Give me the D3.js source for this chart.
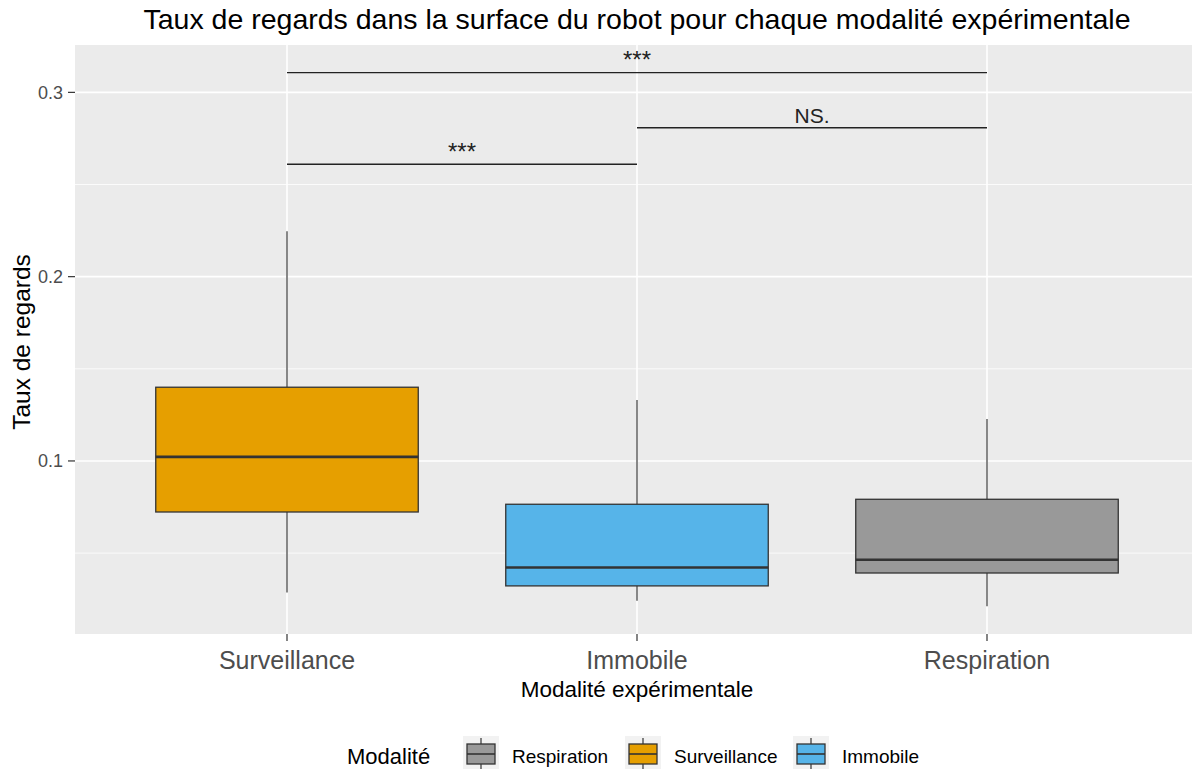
<!DOCTYPE html>
<html>
<head>
<meta charset="utf-8">
<script src="https://cdn.jsdelivr.net/npm/d3@7"></script>
<style>
  body { margin: 0; background: #fff; }
  svg { display: block; font-family: "Liberation Sans", Arial, sans-serif; }
</style>
</head>
<body>
<svg id="chart" width="1192" height="769"></svg>
<script>
// Box statistics per experimental condition
const categories = ["Surveillance", "Immobile", "Respiration"];
const lowerWhisker = [0.0286, 0.0242, 0.0211];
const q1 = [0.0723, 0.0322, 0.0392];
const median = [0.1022, 0.0422, 0.0464];
const q3 = [0.1400, 0.0765, 0.0792];
const upperWhisker = [0.2246, 0.1331, 0.1228];
const fills = {"Surveillance": "#E69F00", "Immobile": "#56B4E9", "Respiration": "#999999"};

const yTicks = [0.1, 0.2, 0.3];
const yMinor = [0.05, 0.15, 0.25];

// Pairwise comparisons (ggsignif-style brackets)
const comparisons = [
  {from: "Surveillance", to: "Immobile", y: 0.261, label: "***"},
  {from: "Immobile", to: "Respiration", y: 0.2808, label: "NS."},
  {from: "Surveillance", to: "Respiration", y: 0.3107, label: "***"}
];

const legendOrder = ["Respiration", "Surveillance", "Immobile"];

const svg = d3.select("#chart");
const panel = {left: 75, right: 1192, top: 45, bottom: 634};

const x = d3.scalePoint().domain(categories)
  .range([77, 1197]).padding(0.6);
const step = x.step();
const boxW = step * 0.75;

const y = d3.scaleLinear().domain([0.0061, 0.3257]).range([panel.bottom, panel.top]);

// Panel background
svg.append("rect")
  .attr("x", panel.left).attr("y", panel.top)
  .attr("width", panel.right - panel.left).attr("height", panel.bottom - panel.top)
  .attr("fill", "#EBEBEB");

// Grid lines
svg.append("g").selectAll("line").data(yMinor).join("line")
  .attr("x1", panel.left).attr("x2", panel.right)
  .attr("y1", d => y(d)).attr("y2", d => y(d))
  .attr("stroke", "#fff").attr("stroke-width", 0.8);
svg.append("g").selectAll("line").data(yTicks).join("line")
  .attr("x1", panel.left).attr("x2", panel.right)
  .attr("y1", d => y(d)).attr("y2", d => y(d))
  .attr("stroke", "#fff").attr("stroke-width", 1.6);
svg.append("g").selectAll("line").data(categories).join("line")
  .attr("x1", d => x(d)).attr("x2", d => x(d))
  .attr("y1", panel.top).attr("y2", panel.bottom)
  .attr("stroke", "#fff").attr("stroke-width", 1.6);

// Boxplots
const boxes = svg.append("g").selectAll("g").data(categories).join("g");
boxes.append("line")
  .attr("x1", d => x(d)).attr("x2", d => x(d))
  .attr("y1", (d, i) => y(upperWhisker[i])).attr("y2", (d, i) => y(q3[i]))
  .attr("stroke", "#555").attr("stroke-width", 1.4);
boxes.append("line")
  .attr("x1", d => x(d)).attr("x2", d => x(d))
  .attr("y1", (d, i) => y(q1[i])).attr("y2", (d, i) => y(lowerWhisker[i]))
  .attr("stroke", "#555").attr("stroke-width", 1.4);
boxes.append("rect")
  .attr("x", d => x(d) - boxW / 2).attr("width", boxW)
  .attr("y", (d, i) => y(q3[i]))
  .attr("height", (d, i) => y(q1[i]) - y(q3[i]))
  .attr("fill", d => fills[d]).attr("stroke", "#333").attr("stroke-width", 1.3);
boxes.append("line")
  .attr("x1", d => x(d) - boxW / 2).attr("x2", d => x(d) + boxW / 2)
  .attr("y1", (d, i) => y(median[i])).attr("y2", (d, i) => y(median[i]))
  .attr("stroke", "#333").attr("stroke-width", 2.6);

// Significance brackets
const sig = svg.append("g").selectAll("g").data(comparisons).join("g");
sig.append("line")
  .attr("x1", d => x(d.from)).attr("x2", d => x(d.to))
  .attr("y1", d => y(d.y)).attr("y2", d => y(d.y))
  .attr("stroke", "#222").attr("stroke-width", 1.4);
sig.append("text")
  .attr("x", d => (x(d.from) + x(d.to)) / 2)
  .attr("y", d => y(d.y) - 4.5)
  .attr("text-anchor", "middle")
  .attr("font-size", d => d.label === "NS." ? 21 : 24)
  .attr("fill", "#222")
  .text(d => d.label);

// Y axis
const yAxis = svg.append("g");
yAxis.selectAll("line").data(yTicks).join("line")
  .attr("x1", panel.left - 7).attr("x2", panel.left)
  .attr("y1", d => y(d)).attr("y2", d => y(d))
  .attr("stroke", "#333").attr("stroke-width", 1.2);
yAxis.selectAll("text").data(yTicks).join("text")
  .attr("x", 63).attr("y", d => y(d)).attr("dy", "0.36em")
  .attr("text-anchor", "end").attr("font-size", 18).attr("fill", "#4D4D4D")
  .text(d => d3.format(".1f")(d));

// X axis
const xAxis = svg.append("g");
xAxis.selectAll("line").data(categories).join("line")
  .attr("x1", d => x(d)).attr("x2", d => x(d))
  .attr("y1", panel.bottom).attr("y2", panel.bottom + 7)
  .attr("stroke", "#333").attr("stroke-width", 1.2);
xAxis.selectAll("text").data(categories).join("text")
  .attr("x", d => x(d)).attr("y", 669)
  .attr("text-anchor", "middle").attr("font-size", 25).attr("fill", "#4D4D4D")
  .text(d => d);

// Titles
svg.append("text").attr("x", 637).attr("y", 29)
  .attr("text-anchor", "middle").attr("font-size", 28.5).attr("fill", "#000")
  .text("Taux de regards dans la surface du robot pour chaque modalité expérimentale");
svg.append("text").attr("x", 637).attr("y", 697)
  .attr("text-anchor", "middle").attr("font-size", 22.5).attr("fill", "#000")
  .text("Modalité expérimentale");
svg.append("text")
  .attr("transform", "translate(30,342) rotate(-90)")
  .attr("text-anchor", "middle").attr("font-size", 24.5).attr("fill", "#000")
  .text("Taux de regards");

// Legend
const legend = svg.append("g");
legend.append("text").attr("x", 347).attr("y", 764)
  .attr("font-size", 22).attr("fill", "#000").text("Modalité");
const keyX = [463, 625, 793];
const keys = legend.selectAll("g.key").data(legendOrder).join("g")
  .attr("class", "key")
  .attr("transform", (d, i) => "translate(" + keyX[i] + ",736)");
keys.append("rect").attr("width", 36).attr("height", 36).attr("fill", "#F2F2F2");
keys.append("line").attr("x1", 18).attr("x2", 18).attr("y1", 2).attr("y2", 36)
  .attr("stroke", "#333").attr("stroke-width", 1.2);
keys.append("rect").attr("x", 4).attr("y", 8).attr("width", 28).attr("height", 20)
  .attr("fill", d => fills[d]).attr("stroke", "#333").attr("stroke-width", 1.3);
keys.append("line").attr("x1", 4).attr("x2", 32).attr("y1", 18).attr("y2", 18)
  .attr("stroke", "#333").attr("stroke-width", 1.6);
keys.append("text").attr("x", 49).attr("y", 27)
  .attr("font-size", 19).attr("fill", "#000").text(d => d);
</script>
</body>
</html>
